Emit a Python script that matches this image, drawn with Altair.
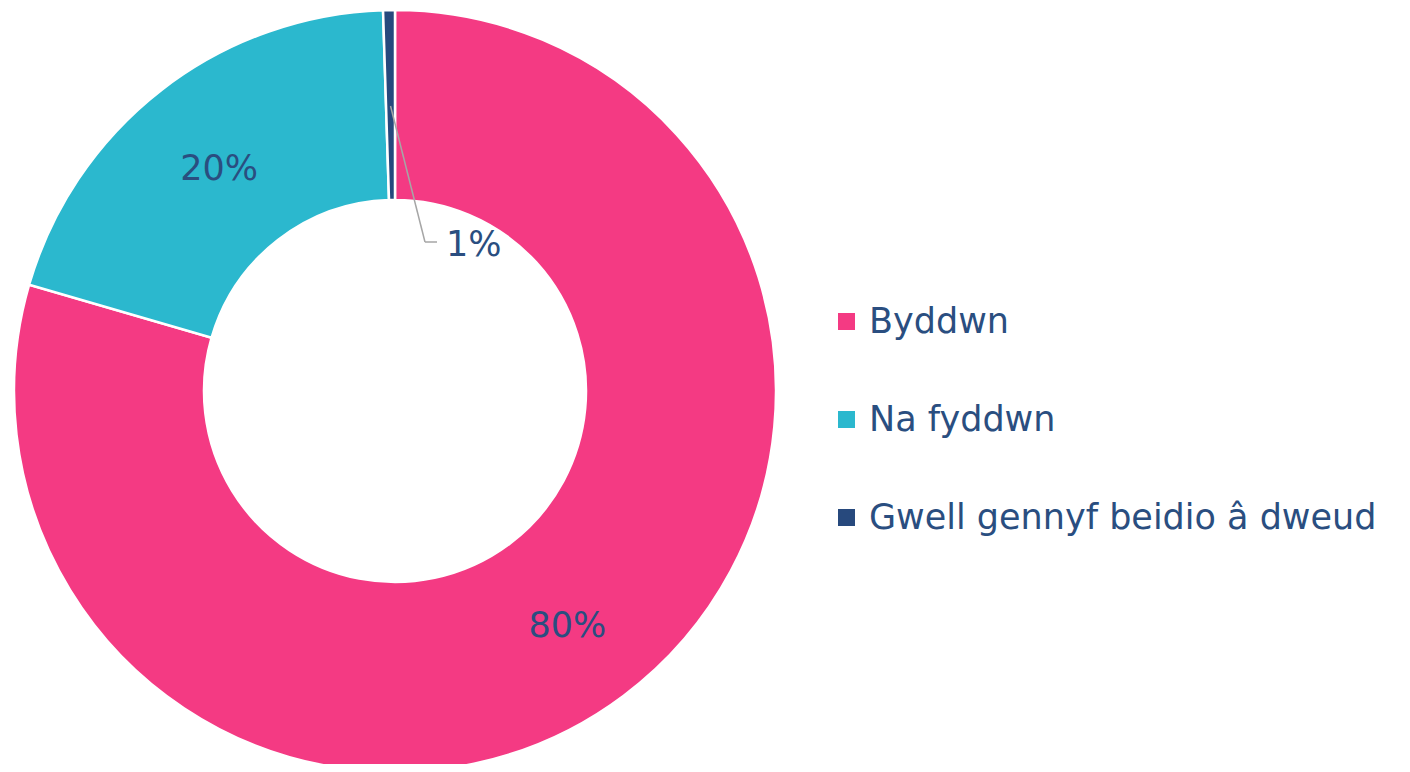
import math
import altair as alt
import pandas as pd

categories = ["Byddwn", "Na fyddwn", "Gwell gennyf beidio â dweud"]
values = [79.5, 20.0, 0.5]
labels = ["80%", "20%", "1%"]
colors = ["#F43A83", "#2BB8CE", "#27497D"]

df = pd.DataFrame({"cat": categories, "value": values, "label": labels, "idx": list(range(len(categories)))})

CX, CY = 387, 383
R_OUT, R_IN = 381, 191
R_LAB = 287
TEXT_COLOR = "#2A4E80"
FONT = "DejaVu Sans"
FS = 35

base = alt.Chart(df).encode(
    theta=alt.Theta("value:Q", stack=True),
    order=alt.Order("idx:Q"),
)

arcs = base.mark_arc(
    outerRadius=R_OUT, innerRadius=R_IN, stroke="white", strokeWidth=2.5
).encode(
    x=alt.value(CX),
    y=alt.value(CY),
    color=alt.Color(
        "cat:N",
        scale=alt.Scale(domain=categories, range=colors),
        sort=categories,
        legend=alt.Legend(
            title=None,
            orient="none",
            legendX=821,
            legendY=296,
            symbolType="square",
            symbolSize=289,
            symbolStrokeWidth=0,
            labelFontSize=FS,
            labelFont=FONT,
            labelColor=TEXT_COLOR,
            labelOffset=5,
            rowPadding=62,
            padding=0,
            labelLimit=800,
        ),
    ),
)

texts = base.mark_text(
    radius=R_LAB, fontSize=FS, font=FONT, color=TEXT_COLOR, dy=5
).encode(
    x=alt.value(CX),
    y=alt.value(CY),
    text="label:N",
).transform_filter(alt.datum.value >= 5)

# callout for the small slice
start_frac = (sum(values[:2]) + values[2] / 2) / sum(values)
ang = start_frac * 2 * math.pi
sx = CX + 285 * math.sin(ang)
sy = CY - 285 * math.cos(ang)
ex, ey = CX + 30, CY - 149

leader = alt.Chart(pd.DataFrame({"a": [0]})).mark_rule(color="#A6A6A6", strokeWidth=1.5).encode(
    x=alt.value(sx), y=alt.value(sy), x2=alt.value(ex), y2=alt.value(ey)
)
leader2 = alt.Chart(pd.DataFrame({"a": [0]})).mark_rule(color="#A6A6A6", strokeWidth=1.5).encode(
    x=alt.value(ex), y=alt.value(ey), x2=alt.value(ex + 12), y2=alt.value(ey)
)
small_text = alt.Chart(df[df["value"] < 5]).mark_text(
    fontSize=FS, font=FONT, color=TEXT_COLOR, align="left", baseline="middle"
).encode(
    x=alt.value(ex + 21), y=alt.value(ey + 3), text="label:N"
)

chart = alt.layer(arcs, texts, leader, leader2, small_text).properties(
    width=1394, height=756, autosize=alt.AutoSizeParams(type="none"), padding=0
).configure_view(stroke=None)

chart.save("out.html", embed_options={"renderer": "svg", "actions": False})
